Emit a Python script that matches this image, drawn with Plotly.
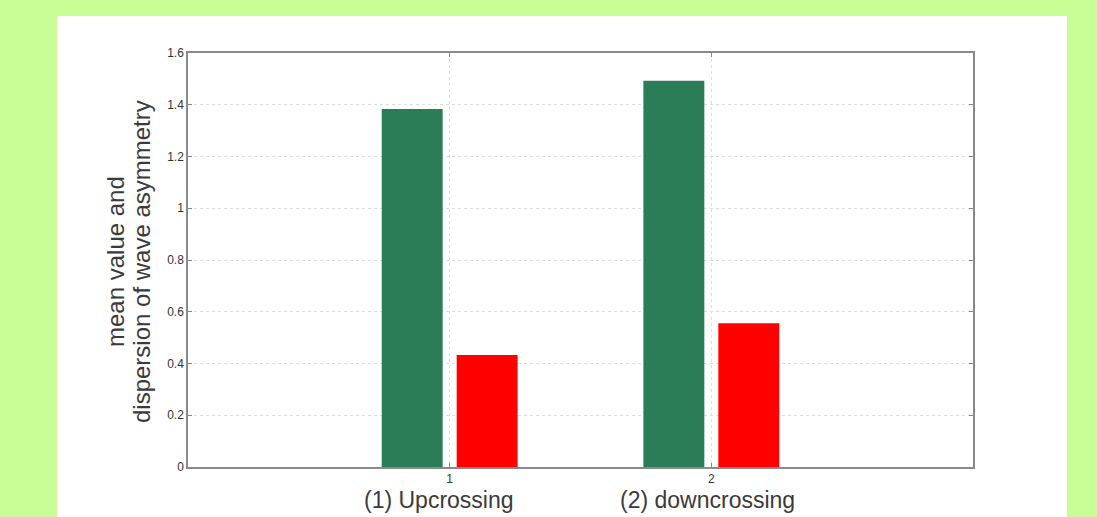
import plotly.graph_objects as go

categories = [1, 2]
case_labels = ["(1) Upcrossing", "(2) downcrossing"]
mean_values = [1.384, 1.493]
dispersion_values = [0.433, 0.556]
y_ticks = [0, 0.2, 0.4, 0.6, 0.8, 1, 1.2, 1.4, 1.6]
y_tick_text = ["0", "0.2", "0.4", "0.6", "0.8", "1", "1.2", "1.4", "1.6"]
y_title_lines = ["mean value and", "dispersion of wave asymmetry"]

FONT = "Liberation Sans, Arial, sans-serif"
PLOT_L, PLOT_R, PLOT_T, PLOT_B = 188, 973, 53, 467
PW, PH = PLOT_R - PLOT_L, PLOT_B - PLOT_T
label_xshifts = [-11, -4]
title_cols = [115, 141]

fig = go.Figure()
fig.add_trace(go.Bar(x=categories, y=mean_values, marker=dict(color="#2a7d56", line=dict(width=0)),
                     name="mean"))
fig.add_trace(go.Bar(x=categories, y=dispersion_values, marker=dict(color="#ff0000", line=dict(width=0)),
                     name="dispersion"))

for c, lab, xs in zip(categories, case_labels, label_xshifts):
    fig.add_annotation(x=c, y=0, xref="x", yref="paper", yshift=-33, xshift=xs,
                       text=lab, showarrow=False, yanchor="middle",
                       font=dict(family=FONT, size=23, color="#3a3a3a"))

for px_x, line in zip(title_cols, y_title_lines):
    fig.add_annotation(x=(px_x - PLOT_L) / PW, y=0.5, xref="paper", yref="paper", yshift=-2,
                       text=line, showarrow=False, textangle=-90, xanchor="center", yanchor="middle",
                       font=dict(family=FONT, size=24, color="#3a3a3a"))

fig.add_shape(type="rect", xref="paper", yref="paper", layer="below",
              x0=(57 - PLOT_L) / PW, x1=(1067 - PLOT_L) / PW, y0=-(517 - PLOT_B) / PH, y1=(PLOT_B - 16) / PH,
              fillcolor="white", line=dict(width=0))

axis_common = dict(showline=True, linecolor="#8a8a8a", linewidth=1.5, mirror="ticks",
                   ticks="inside", ticklen=4, tickcolor="#8a8a8a",
                   showgrid=True, gridcolor="#dedede", griddash="dot", gridwidth=1,
                   zeroline=False,
                   tickfont=dict(family=FONT, size=12, color="#333333"))

fig.update_layout(
    width=1097, height=517,
    margin=dict(l=PLOT_L, r=1097 - PLOT_R, t=PLOT_T, b=517 - PLOT_B),
    paper_bgcolor="#c8fd96",
    plot_bgcolor="white",
    showlegend=False,
    barmode="group",
    bargap=0.427,
    bargroupgap=0.187,
    xaxis=dict(range=[0, 3], tickvals=categories, ticktext=[str(c) for c in categories], **axis_common),
    yaxis=dict(range=[0, 1.6], tickvals=y_ticks, ticktext=y_tick_text, **axis_common),
)

fig.write_html("out.html")
